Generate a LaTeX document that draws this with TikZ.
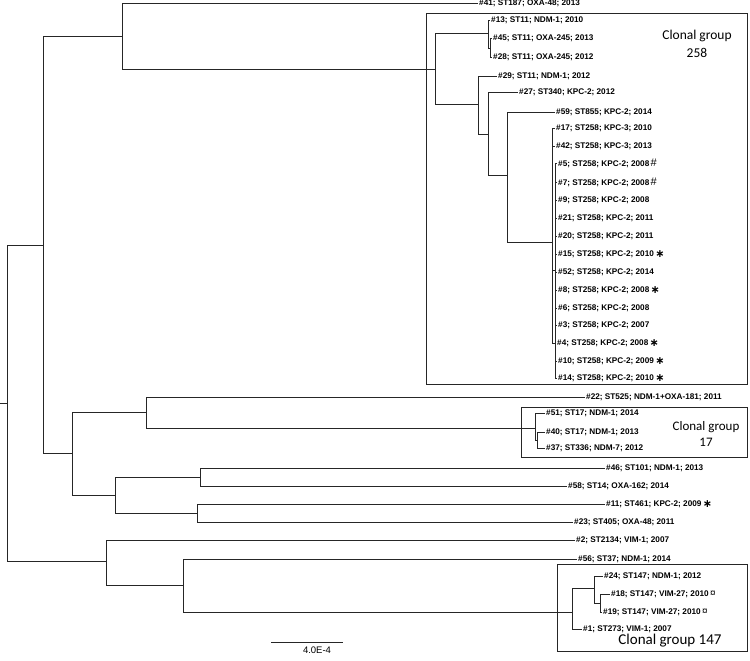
\documentclass[tikz,border=0pt]{standalone}
\usepackage{fontspec}
\setmainfont{Liberation Sans}
\newfontfamily\calib{Carlito}
\newfontfamily\djv{DejaVu Sans}
\newcommand{\astmark}{\,{\djv\bfseries\fontsize{11}{9}\selectfont\raisebox{-0.6pt}{∗}}}
\newcommand{\hashmark}{\,{\mdseries\fontsize{11}{10}\selectfont\#}}
\newcommand{\curmark}{\,{\mdseries\fontsize{10}{9}\selectfont ¤}}
\begin{document}
\begin{tikzpicture}[x=1pt,y=-1pt,
  br/.style={line width=0.8pt, draw=black!85},
  leaf/.style={anchor=west, inner xsep=1pt, inner ysep=0pt, font=\fontsize{8.2}{9}\selectfont\bfseries},
  grp/.style={draw=black!85, line width=0.8pt},
  cg/.style={font=\calib\fontsize{13.5}{18}\selectfont, align=center, inner sep=0pt}]
\useasboundingbox (0,0) rectangle (750,661);

% boxes
\draw[grp] (426,13) rectangle (747,384);
\draw[grp] (521,407) rectangle (747,457);
\draw[grp] (557,564) rectangle (747,651);

% internal nodes
\coordinate (stub) at (0,403);
\coordinate (R) at (7,403);
\coordinate (A) at (43,245);
\coordinate (B) at (122,36);
\coordinate (G258) at (435,69);
\coordinate (H) at (488,33);
\coordinate (H2) at (490,48);
\coordinate (I) at (478,104);
\coordinate (J) at (488,134);
\coordinate (K) at (507,175);
\coordinate (L) at (552,242);
\coordinate (M) at (555,270);
\coordinate (C) at (72,453);
\coordinate (E) at (146,412);
\coordinate (G17) at (535,428);
\coordinate (G17b) at (537,440);
\coordinate (F) at (115,495);
\coordinate (F1) at (200,477);
\coordinate (F2) at (197,513);
\coordinate (D) at (106,561);
\coordinate (D2) at (183,585);
\coordinate (G147) at (572,612);
\coordinate (P) at (594,588);
\coordinate (Q) at (600,603);

% leaves
\node[leaf] (t41) at (478,3) {\#41; ST187; OXA-48; 2013};
\node[leaf] (t13) at (490,20) {\#13; ST11; NDM-1; 2010};
\node[leaf] (t45) at (492,38) {\#45; ST11; OXA-245; 2013};
\node[leaf] (t28) at (492,57) {\#28; ST11; OXA-245; 2012};
\node[leaf] (t29) at (497,76) {\#29; ST11; NDM-1; 2012};
\node[leaf] (t27) at (518,92) {\#27; ST340; KPC-2; 2012};
\node[leaf] (t59) at (555,112) {\#59; ST855; KPC-2; 2014};
\node[leaf] (t17) at (555,128) {\#17; ST258; KPC-3; 2010};
\node[leaf] (t42) at (555,146) {\#42; ST258; KPC-3; 2013};
\node[leaf] (t5) at (557,163) {\#5; ST258; KPC-2; 2008\hashmark};
\node[leaf] (t7) at (557,182) {\#7; ST258; KPC-2; 2008\hashmark};
\node[leaf] (t9) at (557,200) {\#9; ST258; KPC-2; 2008};
\node[leaf] (t21) at (557,218) {\#21; ST258; KPC-2; 2011};
\node[leaf] (t20) at (557,236) {\#20; ST258; KPC-2; 2011};
\node[leaf] (t15) at (557,254) {\#15; ST258; KPC-2; 2010\astmark};
\node[leaf] (t52) at (557,272) {\#52; ST258; KPC-2; 2014};
\node[leaf] (t8) at (557,290) {\#8; ST258; KPC-2; 2008\astmark};
\node[leaf] (t6) at (557,308) {\#6; ST258; KPC-2; 2008};
\node[leaf] (t3) at (557,325) {\#3; ST258; KPC-2; 2007};
\node[leaf] (t4) at (556,343) {\#4; ST258; KPC-2; 2008\astmark};
\node[leaf] (t10) at (557,361) {\#10; ST258; KPC-2; 2009\astmark};
\node[leaf] (t14) at (557,378) {\#14; ST258; KPC-2; 2010\astmark};
\node[leaf] (t22) at (585,397) {\#22; ST525; NDM-1+OXA-181; 2011};
\node[leaf] (t51) at (545,413) {\#51; ST17; NDM-1; 2014};
\node[leaf] (t40) at (545,432) {\#40; ST17; NDM-1; 2013};
\node[leaf] (t37) at (545,448) {\#37; ST336; NDM-7; 2012};
\node[leaf] (t46) at (605,468) {\#46; ST101; NDM-1; 2013};
\node[leaf] (t58) at (567,486) {\#58; ST14; OXA-162; 2014};
\node[leaf] (t11) at (605,504) {\#11; ST461; KPC-2; 2009\astmark};
\node[leaf] (t23) at (573,522) {\#23; ST405; OXA-48; 2011};
\node[leaf] (t2) at (575,540) {\#2; ST2134; VIM-1; 2007};
\node[leaf] (t56) at (577,559) {\#56; ST37; NDM-1; 2014};
\node[leaf] (t24) at (603,576) {\#24; ST147; NDM-1; 2012};
\node[leaf] (t18) at (610,594) {\#18; ST147; VIM-27; 2010\curmark};
\node[leaf] (t19) at (602,612) {\#19; ST147; VIM-27; 2010\curmark};
\node[leaf] (t1) at (582,629) {\#1; ST273; VIM-1; 2007};

% branches
\draw[br] (stub) -- (R);
\draw[br] (R) |- (A);
\draw[br] (R) |- (D);
\draw[br] (A) |- (B);
\draw[br] (A) |- (C);
\draw[br] (B) |- (t41.west);
\draw[br] (B) |- (G258);
\draw[br] (G258) |- (H);
\draw[br] (G258) |- (I);
\draw[br] (H) |- (t13.west);
\draw[br] (H) |- (H2);
\draw[br] (H2) |- (t45.west);
\draw[br] (H2) |- (t28.west);
\draw[br] (I) |- (t29.west);
\draw[br] (I) |- (J);
\draw[br] (J) |- (t27.west);
\draw[br] (J) |- (K);
\draw[br] (K) |- (t59.west);
\draw[br] (K) |- (L);
\draw[br] (L) |- (t17.west);
\draw[br] (L) |- (t42.west);
\draw[br] (L) |- (t4.west);
\draw[br] (L) |- (M);
\foreach \t in {t5,t7,t9,t21,t20,t15,t52,t8,t6,t3,t10,t14}
  \draw[br] (M) |- (\t.west);
\draw[br] (C) |- (E);
\draw[br] (C) |- (F);
\draw[br] (E) |- (t22.west);
\draw[br] (E) |- (G17);
\draw[br] (G17) |- (t51.west);
\draw[br] (G17) |- (G17b);
\draw[br] (G17b) |- (t40.west);
\draw[br] (G17b) |- (t37.west);
\draw[br] (F) |- (F1);
\draw[br] (F) |- (F2);
\draw[br] (F1) |- (t46.west);
\draw[br] (F1) |- (t58.west);
\draw[br] (F2) |- (t11.west);
\draw[br] (F2) |- (t23.west);
\draw[br] (D) |- (t2.west);
\draw[br] (D) |- (D2);
\draw[br] (D2) |- (t56.west);
\draw[br] (D2) |- (G147);
\draw[br] (G147) |- (P);
\draw[br] (G147) |- (t1.west);
\draw[br] (P) |- (t24.west);
\draw[br] (P) |- (Q);
\draw[br] (Q) |- (t18.west);
\draw[br] (Q) |- (t19.west);

% group labels
\node[cg] (cg258) at (697,44) {Clonal group\\258};
\node[cg, font=\calib\fontsize{13}{15.5}\selectfont] (cg17) at (706,434) {Clonal group\\17};
\node[cg, font=\calib\fontsize{15}{16}\selectfont] (cg147) at (670,641) {Clonal group 147};

% scale bar
\coordinate (sb1) at (271,642);
\coordinate (sb2) at (343,642);
\draw[br] (sb1) -- (sb2);
\node[font=\fontsize{9.5}{10}\selectfont, inner sep=0pt] (sbl) at (317,650) {4.0E-4};
\end{tikzpicture}
\end{document}
